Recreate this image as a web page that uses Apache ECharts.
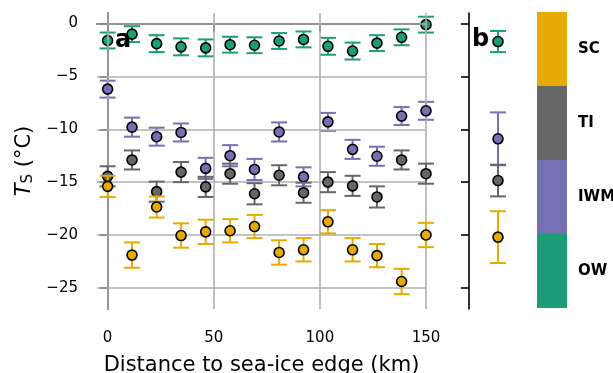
<!DOCTYPE html>
<html><head><meta charset="utf-8">
<script src="https://cdn.jsdelivr.net/npm/echarts@6/dist/echarts.min.js"></script>
<style>html,body{margin:0;padding:0;background:#fff}#c{width:613px;height:373px}</style>
</head><body><div id="c"></div>
<script>
const dist = [0, 11.5, 23.1, 34.6, 46.2, 57.7, 69.2, 80.8, 92.3, 103.8, 115.4, 126.9, 138.5, 150];
const owVals  = [-1.6, -1.0, -1.9, -2.2, -2.3, -2.0, -2.05, -1.65, -1.5, -2.15, -2.6, -1.85, -1.3, -0.1];
const owErr   = [0.75, 0.75, 0.8, 0.8, 0.8, 0.75, 0.75, 0.75, 0.75, 0.8, 0.8, 0.75, 0.75, 0.75];
const iwmVals = [-6.2, -9.8, -10.7, -10.3, -13.7, -12.5, -13.8, -10.25, -14.5, -9.3, -11.9, -12.55, -8.75, -8.25];
const iwmErr  = [0.8, 0.9, 0.85, 0.85, 1.0, 1.0, 1.0, 0.9, 0.9, 0.85, 0.9, 0.9, 0.85, 0.85];
const tiVals  = [-14.45, -12.9, -15.9, -14.05, -15.45, -14.2, -16.1, -14.35, -16.0, -15.0, -15.35, -16.4, -12.9, -14.2];
const tiErr   = [0.95, 0.9, 0.95, 0.95, 0.95, 0.95, 1.0, 0.95, 0.95, 0.95, 0.95, 1.0, 0.9, 0.95];
const scVals  = [-15.4, -21.9, -17.35, -20.05, -19.7, -19.6, -19.2, -21.65, -21.4, -18.75, -21.4, -21.95, -24.4, -20.0];
const scErr   = [1.0, 1.2, 1.0, 1.15, 1.15, 1.1, 1.1, 1.15, 1.1, 1.1, 1.1, 1.1, 1.2, 1.15];
const classes = ['OW', 'IWM', 'TI', 'SC'];
const colors  = ['#1b9e77', '#7570b3', '#666666', '#e6ab02'];
const allVals = [-1.7, -10.9, -14.85, -20.2];
const allErr  = [1.0, 2.5, 1.5, 2.45];
const xTicks = [0, 50, 100, 150];
const yTicks = [0, -5, -10, -15, -20, -25];

const FONT = 'DejaVu Sans';
const fmt = v => (v < 0 ? '\u2212' + Math.abs(v) : String(v));

function errRender(color) {
  return function (params, api) {
    const x = api.value(0), y = api.value(1), e = api.value(2);
    const t = api.coord([x, y + e]), b = api.coord([x, y - e]);
    const hw = 8;
    const st = { stroke: color, lineWidth: 2 };
    return { type: 'group', children: [
      { type: 'line', shape: { x1: t[0], y1: t[1], x2: b[0], y2: b[1] }, style: st },
      { type: 'line', shape: { x1: t[0] - hw, y1: t[1], x2: t[0] + hw, y2: t[1] }, style: st },
      { type: 'line', shape: { x1: b[0] - hw, y1: b[1], x2: b[0] + hw, y2: b[1] }, style: st }
    ]};
  };
}

const mainVals = [owVals, iwmVals, tiVals, scVals];
const mainErr = [owErr, iwmErr, tiErr, scErr];
const series = [];

series.push({
  type: 'line', xAxisIndex: 0, yAxisIndex: 0, data: [], z: 0, silent: true,
  markLine: {
    silent: true, symbol: ['none', 'none'], label: { show: false },
    lineStyle: { color: '#b0b0b0', width: 1.6, type: 'solid' },
    data: xTicks.map(v => ({ xAxis: v })).concat(yTicks.map(v => ({ yAxis: v })))
  }
});

classes.forEach((c, k) => {
  series.push({
    type: 'custom', xAxisIndex: 0, yAxisIndex: 0, z: 2 + k * 2,
    renderItem: errRender(colors[k]),
    data: dist.map((d, i) => [d, mainVals[k][i], mainErr[k][i]]), clip: false
  });
  series.push({
    type: 'scatter', xAxisIndex: 0, yAxisIndex: 0, z: 3 + k * 2,
    symbol: 'circle', symbolSize: 10,
    itemStyle: { color: colors[k], borderColor: '#000', borderWidth: 1.6, opacity: 1 },
    data: dist.map((d, i) => [d, mainVals[k][i]])
  });
  series.push({
    type: 'custom', xAxisIndex: 1, yAxisIndex: 1, z: 2 + k * 2,
    renderItem: errRender(colors[k]),
    data: [[1, allVals[k], allErr[k]]], clip: false
  });
  series.push({
    type: 'scatter', xAxisIndex: 1, yAxisIndex: 1, z: 3 + k * 2,
    symbol: 'circle', symbolSize: 10,
    itemStyle: { color: colors[k], borderColor: '#000', borderWidth: 1.6, opacity: 1 },
    data: [[1, allVals[k]]]
  });
});

series.push({
  type: 'bar', xAxisIndex: 2, yAxisIndex: 2, barWidth: '100%', silent: true,
  data: classes.map((c, k) => ({ value: 1, itemStyle: { color: colors[k] } }))
});

const axisLineStyle = { color: '#000', width: 1.6 };
const option = {
  animation: false,
  backgroundColor: '#fff',
  textStyle: { fontFamily: FONT },
  grid: [
    { left: 97, top: 13, width: 329, height: 296, outerBoundsMode: 'none', containLabel: false },
    { left: 469, top: 13, width: 58, height: 296, outerBoundsMode: 'none', containLabel: false },
    { left: 537, top: 12, width: 30, height: 296, outerBoundsMode: 'none', containLabel: false }
  ],
  xAxis: [
    { gridIndex: 0, type: 'value', min: -5, max: 150,
      name: 'Distance to sea-ice edge (km)', nameLocation: 'middle', nameGap: 46,
      nameTextStyle: { fontFamily: FONT, fontSize: 21, color: '#000' },
      axisLine: { lineStyle: axisLineStyle },
      axisTick: { show: true, length: 8, lineStyle: axisLineStyle, customValues: xTicks },
      axisLabel: { customValues: xTicks, fontFamily: FONT, fontSize: 15, color: '#000', margin: 22, formatter: fmt },
      splitLine: { show: false } },
    { gridIndex: 1, type: 'value', min: 0, max: 2, show: false },
    { gridIndex: 2, type: 'value', min: 0, max: 1, show: false }
  ],
  yAxis: [
    { gridIndex: 0, type: 'value', min: -27, max: 1,
      name: '{i|T}{s|S} (°C)', nameLocation: 'middle', nameGap: 56, nameRotate: 90,
      nameTextStyle: { fontFamily: FONT, fontSize: 21, color: '#000',
        rich: { i: { fontFamily: FONT, fontSize: 21, fontStyle: 'italic', color: '#000' },
                s: { fontFamily: FONT, fontSize: 15, color: '#000', verticalAlign: 'bottom', padding: [7, 0, 0, 0] } } },
      axisLine: { lineStyle: axisLineStyle },
      axisTick: { show: true, length: 8, lineStyle: axisLineStyle, customValues: yTicks },
      axisLabel: { customValues: yTicks, fontFamily: FONT, fontSize: 15, color: '#000', margin: 19, formatter: fmt },
      splitLine: { show: false } },
    { gridIndex: 1, type: 'value', min: -27, max: 1,
      axisLine: { show: true, lineStyle: axisLineStyle },
      axisTick: { show: true, length: 8, lineStyle: axisLineStyle, customValues: yTicks },
      axisLabel: { show: false, customValues: yTicks },
      splitLine: { show: false } },
    { gridIndex: 2, type: 'category', data: classes, position: 'right',
      axisLine: { show: false }, axisTick: { show: false },
      axisLabel: { fontFamily: FONT, fontSize: 15, fontWeight: 'bold', color: '#000', margin: 11 } }
  ],
  graphic: [
    { type: 'text', left: 115, top: 29, style: { text: 'a', font: 'bold 24px "DejaVu Sans"', fill: '#000' }, z: 100 },
    { type: 'text', left: 472, top: 28, style: { text: 'b', font: 'bold 24px "DejaVu Sans"', fill: '#000' }, z: 100 }
  ],
  series
};
const chart = echarts.init(document.getElementById('c'), null, { renderer: 'canvas' });
chart.setOption(option);
</script></body></html>
